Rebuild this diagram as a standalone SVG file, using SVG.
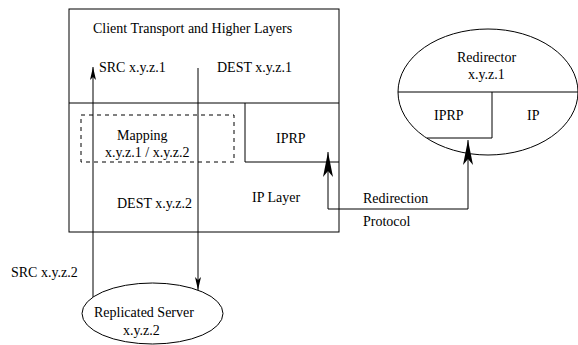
<svg xmlns="http://www.w3.org/2000/svg" width="578" height="345" viewBox="0 0 578 345">
<style>
.ln{fill:none;stroke:#000;stroke-width:1}
.dash{fill:none;stroke:#000;stroke-width:1;stroke-dasharray:4,4}
text{font-family:"Liberation Serif","Times New Roman",serif;font-size:14px;fill:#000}
</style>
<defs>
<marker id="big" markerUnits="userSpaceOnUse" markerWidth="25" markerHeight="10" viewBox="0 0 25 10" refX="25" refY="5" orient="auto">
<path d="M0,0 L25,5 L0,10 L6,5 Z" fill="#000"/>
</marker>
<marker id="small" markerUnits="userSpaceOnUse" markerWidth="13" markerHeight="6" viewBox="0 0 13 6" refX="13" refY="3" orient="auto">
<path d="M0,0 L13,3 L0,6 L3,3 Z" fill="#000"/>
</marker>
</defs>
<rect width="578" height="345" fill="#fff"/>
<g id="client">
<rect class="ln" x="69" y="9" width="270" height="223"/>
<line class="ln" x1="69" y1="103" x2="339" y2="103"/>
<path class="ln" d="M245,103 V162 H339"/>
<text x="93" y="33">Client Transport and Higher Layers</text>
<text x="99" y="72">SRC x.y.z.1</text>
<text x="217" y="72">DEST x.y.z.1</text>
<text x="276" y="143">IPRP</text>
<text x="117" y="208">DEST x.y.z.2</text>
<text x="252" y="202">IP Layer</text>
</g>
<g id="mapping">
<rect class="dash" x="81" y="115" width="153" height="47"/>
<text x="117" y="140">Mapping</text>
<text x="105" y="157">x.y.z.1 / x.y.z.2</text>
</g>
<g id="server">
<ellipse class="ln" cx="152.5" cy="313.5" rx="70.5" ry="30.5"/>
<text x="94" y="317">Replicated Server</text>
<text x="123" y="335">x.y.z.2</text>
</g>
<g id="redirector">
<ellipse class="ln" cx="488" cy="92" rx="90" ry="63"/>
<line class="ln" x1="398" y1="92" x2="578" y2="92"/>
<path class="ln" d="M427,138 H492 V92"/>
<text x="457" y="62">Redirector</text>
<text x="468" y="79">x.y.z.1</text>
<text x="434" y="120">IPRP</text>
<text x="527" y="120">IP</text>
</g>
<g id="connectors">
<line class="ln" x1="93" y1="297" x2="93" y2="67" marker-end="url(#small)"/>
<line class="ln" x1="198" y1="68" x2="198" y2="290" marker-end="url(#small)"/>
<path class="ln" d="M328,209 H468 V140" marker-end="url(#big)"/>
<line class="ln" x1="328" y1="209" x2="328" y2="152" marker-end="url(#big)"/>
<text x="11" y="277">SRC x.y.z.2</text>
<text x="363" y="203">Redirection</text>
<text x="363" y="226">Protocol</text>
</g>
</svg>
